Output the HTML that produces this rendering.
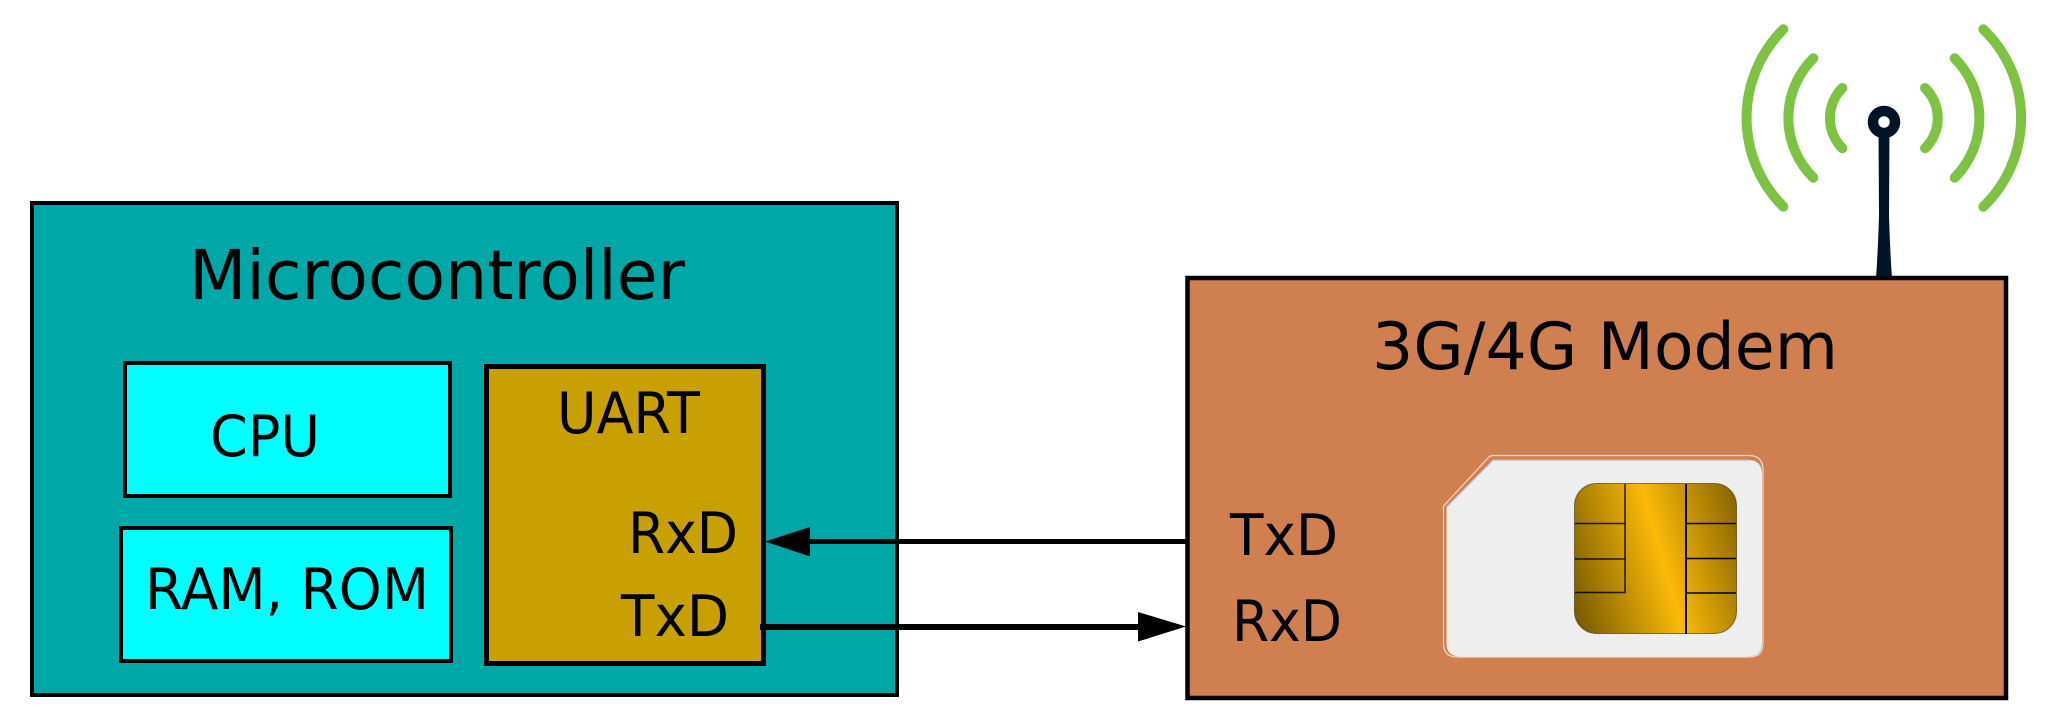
<!DOCTYPE html>
<html><head><meta charset="utf-8"><style>html,body{margin:0;padding:0;background:#fff}svg{display:block}text{font-family:"DejaVu Sans",sans-serif;fill:#000}</style></head>
<body>
<svg xmlns="http://www.w3.org/2000/svg" width="2049" height="723" viewBox="0 0 2049 723">
<defs>
<linearGradient id="g" gradientUnits="userSpaceOnUse" x1="1559" y1="580" x2="1761" y2="522">
<stop offset="0" stop-color="#715500"/><stop offset=".5" stop-color="#fcba08"/><stop offset="1" stop-color="#715500"/>
</linearGradient>
</defs>
<rect width="2049" height="723" fill="#fff"/>
<!-- antenna -->
<g fill="none" stroke="#7dc242" stroke-width="10" stroke-linecap="round">
<path d="M1842.3 88A43 43 0 0 0 1842.3 148.3"/>
<path d="M1813.3 58.3A84 84 0 0 0 1813.3 177.7"/>
<path d="M1783.3 29.3A125.5 125.5 0 0 0 1783.3 206.7"/>
<path d="M1925 88A42 42 0 0 1 1925 148.3"/>
<path d="M1954.7 58.3A84.5 84.5 0 0 1 1954.7 177.7"/>
<path d="M1983.3 29.3A123 123 0 0 1 1983.3 206.7"/>
</g>
<path d="M1878.500 130L1879 215Q1878 250 1876 278L1892 278Q1890 250 1889 215L1889.500 130Z" fill="#001428"/>
<circle cx="1884" cy="122" r="11" fill="#fff" stroke="#001428" stroke-width="10.500"/>
<!-- microcontroller -->
<rect x="32" y="203" width="865" height="492" fill="#00a7a7" stroke="#000" stroke-width="4"/>
<rect x="125" y="363" width="325" height="133" fill="#0ff" stroke="#000" stroke-width="4"/>
<rect x="121" y="528" width="330" height="133" fill="#0ff" stroke="#000" stroke-width="4"/>
<rect x="486.5" y="366.5" width="277" height="297" fill="#c8a000" stroke="#000" stroke-width="5"/>
<text x="189" y="299" font-size="69" textLength="496" lengthAdjust="spacingAndGlyphs">Microcontroller</text>
<text x="210" y="456" font-size="57" textLength="110" lengthAdjust="spacingAndGlyphs">CPU</text>
<text x="145" y="609" font-size="57" textLength="284" lengthAdjust="spacingAndGlyphs">RAM, ROM</text>
<text x="557" y="433" font-size="57" textLength="143" lengthAdjust="spacingAndGlyphs">UART</text>
<text x="628" y="553" font-size="57" textLength="110" lengthAdjust="spacingAndGlyphs">RxD</text>
<text x="621" y="636" font-size="57" textLength="108" lengthAdjust="spacingAndGlyphs">TxD</text>
<!-- modem -->
<rect x="1187.5" y="278" width="818.5" height="420" fill="#cf7f50" stroke="#000" stroke-width="4.5"/>
<text x="1372" y="369" font-size="65" textLength="466" lengthAdjust="spacingAndGlyphs">3G/4G Modem</text>
<text x="1230" y="555" font-size="57" textLength="108" lengthAdjust="spacingAndGlyphs">TxD</text>
<text x="1232" y="641" font-size="57" textLength="110" lengthAdjust="spacingAndGlyphs">RxD</text>
<!-- SIM -->
<path d="M1443.500 506L1489 457Q1491 455.500 1494 455.500L1749 455.500Q1763 455.500 1763 470L1763 643Q1763 657 1749 657L1457 657Q1443.500 657 1443.500 643Z" fill="none" stroke="#f3d9c8" stroke-width="1.200"/>
<path d="M1446.500 507L1493 460L1748 460Q1762 460 1762 474L1762 643Q1762 656.500 1748 656.500L1460 656.500Q1446.500 656.500 1446.500 643Z" fill="#eee"/>
<path d="M1446.500 507L1493 460L1748 460" fill="none" stroke="#b8b8b8" stroke-width="1.200"/>
<rect x="1574.500" y="483.500" width="162" height="150" rx="22" fill="url(#g)" stroke="#3a3000" stroke-opacity=".6" stroke-width="1"/>
<g fill="none" stroke="#000" stroke-width="1.500">
<path d="M1625 484V592.500H1575M1575 523.500H1625M1575 559H1625" stroke-opacity=".85"/>
<path d="M1686 484V634" stroke-width="2"/>
<path d="M1686 523.500H1736M1686 558.500H1736M1686 593H1736"/>
</g>
<!-- connectors -->
<path d="M1186 541.500H805" stroke="#000" stroke-width="5"/>
<path d="M765 541.500L810 527V556.500Z" fill="#000"/>
<path d="M760 627H1145" stroke="#000" stroke-width="6"/>
<path d="M1186 626.500L1138 612V641.500Z" fill="#000"/>
</svg>
</body></html>
